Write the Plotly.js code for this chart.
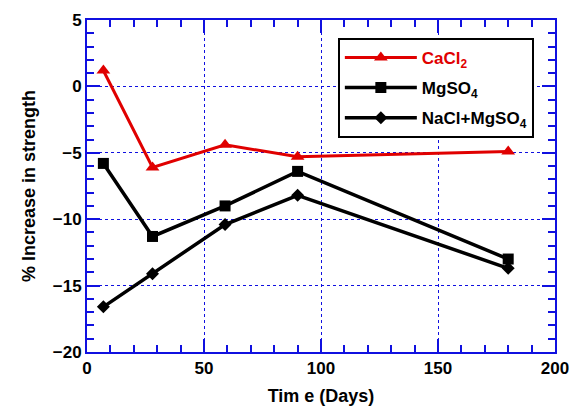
<!DOCTYPE html>
<html><head><meta charset="utf-8">
<script src="https://cdn.plot.ly/plotly-3.0.1.min.js"></script>
<style>html,body{margin:0;padding:0;background:#fff}</style>
</head><body>
<div id="chart" style="width:574px;height:413px"></div>
<script>
var days = [7, 28, 59, 90, 180];
var cacl2 = [1.2, -6.1, -4.4, -5.3, -4.9];
var mgso4 = [-5.8, -11.3, -9.0, -6.4, -13.0];
var naclMgso4 = [-16.6, -14.1, -10.4, -8.2, -13.7];
var seriesNames = ['<span style="color:#e00000">CaCl<sub>2</sub></span>', 'MgSO<sub>4</sub>', 'NaCl+MgSO<sub>4</sub>'];
var xTicks = [0, 50, 100, 150, 200];
var yTicks = [-20, -15, -10, -5, 0, 5];

var FONT = 'Liberation Sans, Arial, sans-serif';
var BLUE = '#1010e0';

var traces = [
  {x: days, y: cacl2, name: seriesNames[0], legendgroup: 'g1', mode: 'lines+markers',
   line: {color: '#e00000', width: 3}, marker: {symbol: 'triangle-up', size: 12, color: '#e00000'}},
  {x: days, y: mgso4, name: seriesNames[1], legendgroup: 'g2', mode: 'lines+markers',
   line: {color: '#000', width: 3.5}, marker: {symbol: 'square', size: 11, color: '#000'}},
  {x: days, y: naclMgso4, name: seriesNames[2], legendgroup: 'g3', mode: 'lines+markers',
   line: {color: '#000', width: 3.5}, marker: {symbol: 'diamond', size: 10, color: '#000'}}
];

var axisCommon = {
  showline: true, linecolor: BLUE, linewidth: 2, mirror: 'ticks',
  ticks: 'inside', ticklen: 13, tickwidth: 2, tickcolor: BLUE,
  showgrid: true, gridcolor: BLUE, griddash: 'dot', gridwidth: 1,
  zeroline: false,
  tickfont: {family: FONT, size: 17, color: '#000', weight: 'bold'}
};

var layout = {
  width: 574, height: 413,
  margin: {l: 87, r: 19, t: 20, b: 61},
  paper_bgcolor: '#fff', plot_bgcolor: '#fff',
  showlegend: true,
  xaxis: Object.assign({}, axisCommon, {
    range: [0, 200], tickvals: xTicks,
    minor: {dtick: 10, ticklen: 7, tickwidth: 2, tickcolor: BLUE, ticks: 'inside', showgrid: false},
    title: {text: 'Tim e (Days)', font: {family: FONT, size: 18, color: '#000', weight: 'bold'}, standoff: 12}
  }),
  yaxis: Object.assign({}, axisCommon, {
    range: [-20, 5], tickvals: yTicks,
    minor: {dtick: 1, ticklen: 7, tickwidth: 2, tickcolor: BLUE, ticks: 'inside', showgrid: false},
    title: {text: '% Increase in strength', font: {family: FONT, size: 18, color: '#000', weight: 'bold'}, standoff: 12}
  }),
  legend: {
    x: 0.536, y: 0.946, xanchor: 'left', yanchor: 'top',
    bgcolor: '#fff', bordercolor: '#000', borderwidth: 2,
    font: {family: FONT, size: 17, color: '#000', weight: 'bold'},
    itemwidth: 72, tracegroupgap: 5
  }
};

Plotly.newPlot('chart', traces, layout, {displayModeBar: false, staticPlot: true});
</script>
</body></html>
